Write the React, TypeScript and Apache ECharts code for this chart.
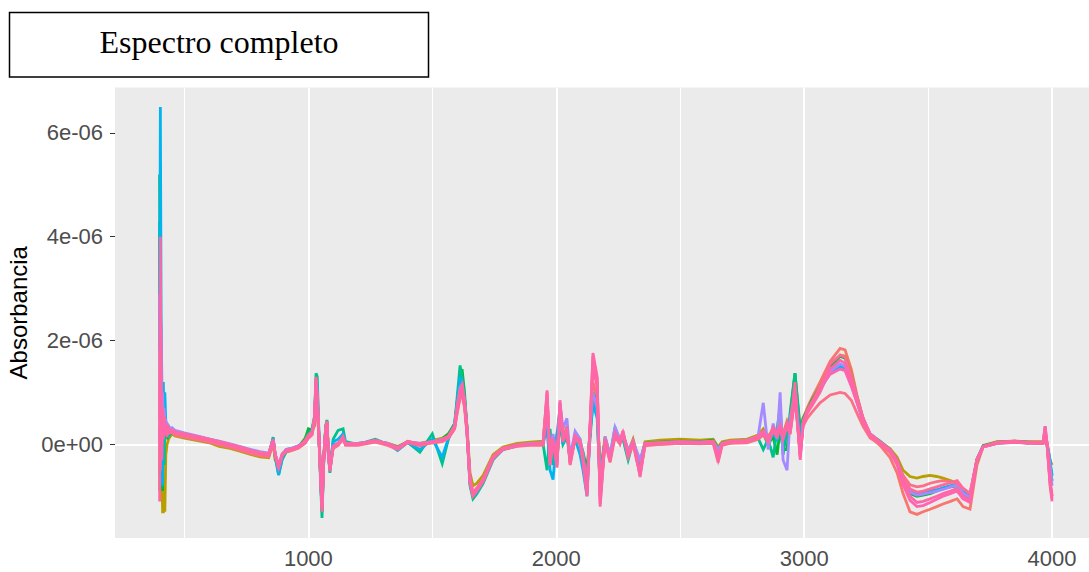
import { useEffect, useRef } from "react";
import * as echarts from "echarts";

// Wavenumber grid (cm-1) shared by every spectrum
const wavenumbers = [
  400, 403, 406, 409, 412, 415, 418, 421, 425, 430, 436, 442,
  450, 462, 500, 563, 600, 640, 684, 730, 770, 805, 840, 858, 866, 880, 894, 910, 930, 960, 987,
  1000, 1015, 1025, 1031, 1036, 1042, 1049, 1055, 1062, 1070, 1075, 1081, 1087, 1100, 1120, 1140, 1150,
  1200, 1270, 1320, 1360, 1400, 1450, 1500, 1540, 1565, 1590, 1600, 1612, 1620, 1630, 1640, 1652, 1664, 1680, 1705, 1745, 1785, 1842, 1894,
  1947, 1963, 1975, 1987, 2003, 2015, 2027, 2043, 2056, 2076,
  2096, 2108, 2124, 2136, 2148, 2165, 2177, 2197, 2217, 2237,
  2257, 2269, 2290, 2310, 2326, 2338, 2358, 2419, 2499, 2580,
  2633, 2653, 2669, 2701, 2770, 2814, 2835, 2855, 2875, 2891,
  2903, 2915, 2931, 2943, 2963, 2984, 2996,
  3012, 3032, 3064, 3105, 3145, 3165, 3190, 3213, 3237, 3266,
  3306, 3346, 3375, 3399, 3427, 3455, 3480, 3508, 3535, 3560,
  3590, 3617, 3641, 3669, 3697, 3722, 3778, 3850, 3900, 3964,
  3972, 3980, 3992, 4000,
];

// Absorbance of each sample, in units of 1e-06
const muestra1 = [
  -0.6, 1.5, 0.3, 0.1, 0.4, 0.2, 0.3, 0.1, 0.25, 0.2, 0.2, 0.22,
  0.24, 0.2, 0.16, 0.1, 0.06, 0.0, -0.05, -0.11, -0.17, -0.21, -0.23, 0.05, -0.22, -0.4, -0.22, -0.14, -0.12, -0.07, 0.02,
  0.12, 0.22, 0.45, 1.2, 0.8, 0.15, -0.5, -1.1, -0.25, 0.25, 0.4, -0.15, -0.45, -0.05, 0.0, 0.1, 0.0,
  0.0, 0.05, 0.02, -0.05, 0.04, 0.0, 0.03, 0.06, 0.12, 0.3, 0.6, 0.9, 1.0, 0.75, 0.2, -0.7, -0.98, -0.9, -0.7, -0.28, -0.1, -0.03, 0.0,
  0.0, 0.7, -0.2, 0.05, -0.2, 0.5, 0.05, 0.2, -0.2, 0.1,
  0.02, -0.2, -0.6, 0.2, 1.2, 0.9, -0.8, 0.05, -0.2, 0.15,
  0.02, 0.15, -0.1, 0.03, -0.2, -0.4, 0.0, 0.0, 0.02, 0.02,
  0.03, -0.15, 0.0, 0.03, 0.05, 0.12, 0.2, 0.1, 0.25, 0.15,
  0.3, 0.1, 0.35, 0.2, 0.9, -0.1, 0.5,
  0.7, 0.9, 1.2, 1.6, 1.85, 1.82, 1.45, 0.95, 0.5, 0.15,
  -0.02, -0.25, -0.55, -0.95, -1.3, -1.35, -1.3, -1.25, -1.2, -1.15,
  -1.1, -1.05, -1.2, -1.25, -0.4, -0.05, 0.02, 0.05, 0.03, 0.02,
  0.1, 0.0, -0.4, -0.6,
];

const muestra2 = [
  -0.9, 0.4, 0.2, -0.5, -1.3, -1.3, -0.85, -1.3, -0.2, 0.0, 0.1, 0.15,
  0.2, 0.16, 0.12, 0.06, 0.03, -0.04, -0.08, -0.14, -0.2, -0.24, -0.26, 0.02, -0.3, -0.4, -0.25, -0.15, -0.12, -0.06, 0.12,
  0.25, 0.3, 0.35, 1.1, 0.8, 0.2, -0.5, -1.1, -0.2, 0.3, 0.4, -0.2, -0.4, 0.0, 0.02, 0.1, 0.02,
  0.02, 0.05, 0.02, -0.04, 0.05, 0.02, 0.07, 0.12, 0.2, 0.35, 0.65, 0.95, 1.05, 0.85, 0.35, -0.55, -0.8, -0.75, -0.6, -0.2, -0.05, 0.02, 0.04,
  0.06, 0.9, -0.3, 0.15, -0.35, 0.5, 0.12, 0.35, -0.35, 0.2,
  0.1, -0.25, -0.7, 0.3, 0.9, 0.7, -0.6, 0.15, -0.25, 0.2,
  0.1, 0.2, -0.15, 0.1, -0.2, -0.35, 0.05, 0.08, 0.1, 0.08,
  0.1, -0.05, 0.05, 0.08, 0.1, 0.18, 0.3, 0.15, 0.3, 0.2,
  0.35, 0.2, 0.45, 0.3, 0.9, 0.2, 0.5,
  0.65, 0.85, 1.1, 1.5, 1.72, 1.7, 1.35, 0.9, 0.5, 0.18,
  0.05, -0.08, -0.25, -0.5, -0.62, -0.65, -0.62, -0.6, -0.62, -0.65,
  -0.7, -0.75, -0.9, -1.05, -0.35, -0.02, 0.05, 0.06, 0.05, 0.05,
  0.1, 0.02, -0.3, -0.4,
];

const muestra3 = [
  5.2, 0.8, -0.6, 0.3, -0.9, 0.9, 0.2, 0.1, 0.3, 0.1, 0.2, 0.2,
  0.25, 0.21, 0.17, 0.11, 0.07, 0.02, -0.03, -0.09, -0.15, -0.19, -0.21, 0.08, -0.22, -0.5, -0.25, -0.13, -0.1, -0.04, 0.1,
  0.3, 0.28, 0.5, 1.25, 0.9, 0.2, -0.6, -1.3, -0.3, 0.35, 0.45, -0.2, -0.5, -0.02, 0.0, 0.2, 0.0,
  0.0, 0.07, 0.0, -0.06, 0.05, 0.0, 0.04, 0.1, 0.2, 0.4, 0.8, 1.3, 1.45, 1.0, 0.3, -0.7, -1.0, -0.9, -0.7, -0.25, -0.08, -0.01, 0.01,
  0.03, 0.6, -0.2, 0.1, -0.3, 0.6, 0.1, 0.2, -0.2, 0.15,
  0.05, -0.15, -0.5, 0.2, 1.0, 0.8, -0.6, 0.1, -0.2, 0.15,
  0.05, 0.2, -0.15, 0.05, -0.2, -0.35, 0.02, 0.04, 0.06, 0.05,
  0.08, -0.1, 0.02, 0.05, 0.06, 0.14, 0.2, 0.0, 0.15, -0.2,
  0.3, -0.1, -0.1, 0.6, 1.37, 0.3, 0.5,
  0.65, 0.85, 1.1, 1.5, 1.7, 1.66, 1.3, 0.9, 0.5, 0.18,
  0.03, -0.12, -0.35, -0.7, -0.95, -1.0, -0.98, -0.95, -0.9, -0.85,
  -0.82, -0.8, -0.95, -1.05, -0.3, -0.03, 0.04, 0.06, 0.04, 0.03,
  0.1, 0.0, -0.5, -0.7,
];

const muestra4 = [
  4.3, 0.5, 0.9, -0.2, 0.4, 0.2, -0.4, 0.3, 0.2, 0.25, 0.15, 0.2,
  0.22, 0.19, 0.15, 0.09, 0.05, 0.0, -0.05, -0.1, -0.16, -0.2, -0.22, 0.14, -0.25, -0.59, -0.3, -0.15, -0.1, -0.05, 0.08,
  0.2, 0.3, 0.55, 1.37, 1.3, 0.3, -0.7, -1.42, -0.35, 0.35, 0.47, -0.2, -0.55, 0.1, 0.27, 0.3, 0.05,
  0.0, 0.1, 0.0, -0.1, 0.04, -0.15, 0.2, -0.37, 0.1, 0.4, 0.9, 1.52, 1.3, 0.9, 0.3, -0.8, -1.05, -0.95, -0.75, -0.3, -0.1, -0.03, 0.0,
  0.0, -0.5, 0.3, -0.4, 0.2, 0.4, 0.0, 0.15, -0.3, 0.1,
  0.0, -0.2, -0.7, 0.1, 0.8, 0.6, -0.9, 0.1, -0.25, 0.33,
  0.05, 0.1, -0.3, 0.05, -0.2, -0.4, 0.0, 0.02, 0.03, 0.03,
  0.04, -0.1, 0.0, 0.03, 0.05, 0.12, -0.1, 0.1, -0.25, 0.3,
  0.72, -0.2, 0.3, 0.5, 1.37, 0.2, 0.45,
  0.62, 0.8, 1.05, 1.4, 1.5, 1.48, 1.2, 0.85, 0.48, 0.2,
  0.06, -0.1, -0.3, -0.62, -0.88, -0.95, -0.92, -0.9, -0.88, -0.85,
  -0.8, -0.78, -0.92, -1.0, -0.28, -0.03, 0.03, 0.05, 0.04, 0.03,
  0.08, 0.0, -0.5, -0.7,
];

const muestra5 = [
  1.8, 6.5, 2.5, 1.2, -0.8, 1.2, 0.3, 1.0, 0.4, 0.3, 0.35, 0.3,
  0.3, 0.25, 0.2, 0.14, 0.1, 0.05, 0.0, -0.06, -0.12, -0.16, -0.18, 0.12, -0.18, -0.59, -0.28, -0.1, -0.08, -0.03, 0.06,
  0.18, 0.25, 0.45, 1.2, 1.1, 0.25, -0.6, -1.2, -0.3, 0.3, 0.4, -0.25, -0.45, 0.05, 0.1, 0.2, 0.02,
  0.02, 0.06, 0.02, -0.12, 0.03, -0.1, 0.1, -0.25, 0.12, 0.35, 0.8, 1.3, 1.2, 0.85, 0.25, -0.75, -1.0, -0.92, -0.72, -0.28, -0.1, -0.02, 0.01,
  0.02, 0.3, -0.5, -0.68, 0.2, 0.7, 0.0, 0.3, -0.3, 0.1,
  -0.2, -0.5, -1.0, 0.2, 0.8, 0.5, -0.7, 0.05, -0.2, 0.25,
  0.1, 0.15, -0.25, 0.05, -0.3, -0.5, 0.0, 0.01, 0.03, 0.02,
  0.03, -0.12, 0.01, 0.03, 0.05, 0.1, 0.2, 0.05, 0.2, 0.1,
  0.3, 0.05, 0.35, 0.3, 1.1, 0.1, 0.45,
  0.62, 0.8, 1.05, 1.38, 1.5, 1.45, 1.15, 0.82, 0.45, 0.18,
  0.04, -0.12, -0.35, -0.68, -0.9, -0.95, -0.93, -0.9, -0.88, -0.84,
  -0.8, -0.76, -0.9, -1.0, -0.3, -0.04, 0.03, 0.05, 0.03, 0.03,
  0.1, 0.0, -0.3, -0.6,
];

const muestra6 = [
  2.9, 0.5, 2.3, 0.6, 1.0, 0.4, 0.7, 0.5, 0.45, 0.4, 0.35, 0.3,
  0.32, 0.27, 0.22, 0.15, 0.1, 0.06, 0.01, -0.05, -0.1, -0.14, -0.17, 0.08, -0.18, -0.4, -0.2, -0.1, -0.08, -0.03, 0.06,
  0.16, 0.22, 0.5, 1.1, 0.85, 0.2, -0.5, -1.1, -0.25, 0.28, 0.4, -0.15, -0.45, -0.03, 0.02, 0.12, 0.02,
  0.02, 0.06, 0.02, -0.06, 0.05, 0.02, 0.05, 0.1, 0.15, 0.35, 0.75, 1.1, 1.15, 0.85, 0.25, -0.7, -0.98, -0.88, -0.7, -0.25, -0.08, -0.01, 0.02,
  0.03, 0.6, -0.2, 0.2, -0.3, 0.8, 0.3, 0.5, -0.25, 0.25,
  0.1, -0.2, -0.8, 0.3, 1.0, 0.7, -0.8, 0.15, -0.2, 0.33,
  0.1, 0.2, -0.1, 0.05, -0.15, -0.3, 0.02, 0.03, 0.05, 0.04,
  0.06, -0.1, 0.02, 0.05, 0.08, 0.15, 0.8, -0.1, 0.4, 0.1,
  1.0, -0.3, -0.5, 0.5, 1.0, -0.2, 0.4,
  0.62, 0.8, 1.05, 1.4, 1.55, 1.5, 1.2, 0.84, 0.47, 0.18,
  0.04, -0.12, -0.35, -0.7, -0.92, -0.98, -0.96, -0.93, -0.9, -0.87,
  -0.82, -0.78, -0.94, -1.02, -0.3, -0.05, 0.02, 0.04, 0.03, 0.03,
  0.35, 0.0, -0.4, -0.8,
];

const muestra7 = [
  0.3, -0.5, 0.6, 0.2, 0.3, 0.2, 0.35, 0.25, 0.3, 0.2, 0.25, 0.22,
  0.22, 0.18, 0.14, 0.08, 0.04, -0.01, -0.06, -0.12, -0.18, -0.22, -0.24, 0.05, -0.24, -0.42, -0.22, -0.14, -0.12, -0.07, 0.03,
  0.12, 0.18, 0.45, 1.1, 0.8, 0.15, -0.55, -1.15, -0.28, 0.25, 0.4, -0.22, -0.45, -0.08, -0.02, 0.1, -0.02,
  -0.02, 0.04, -0.02, -0.1, 0.03, -0.03, 0.03, 0.05, 0.12, 0.3, 0.6, 0.9, 0.95, 0.7, 0.2, -0.75, -1.0, -0.9, -0.72, -0.28, -0.1, -0.04, -0.02,
  -0.02, 0.8, -0.4, 0.05, -0.35, 0.7, 0.05, 0.25, -0.4, 0.1,
  0.0, -0.35, -0.9, 0.25, 1.5, 1.1, -1.0, 0.05, -0.35, 0.15,
  0.0, 0.2, -0.25, 0.0, -0.35, -0.55, -0.03, 0.0, 0.02, 0.01,
  0.02, -0.35, -0.02, 0.02, 0.03, 0.1, 0.18, 0.05, 0.25, 0.15,
  0.3, 0.1, 0.35, 0.2, 0.9, -0.2, 0.35,
  0.5, 0.62, 0.8, 0.95, 1.0, 0.98, 0.85, 0.6, 0.35, 0.12,
  0.0, -0.15, -0.35, -0.6, -0.78, -0.82, -0.8, -0.75, -0.72, -0.7,
  -0.72, -0.75, -0.85, -0.95, -0.3, -0.05, 0.02, 0.04, 0.02, 0.02,
  0.2, -0.02, -0.7, -1.0,
];

const muestra8 = [
  0.1, 2.0, 0.5, 0.0, 0.4, 0.15, 0.4, 0.25, 0.3, 0.2, 0.28, 0.24,
  0.27, 0.23, 0.19, 0.13, 0.09, 0.04, -0.01, -0.07, -0.13, -0.17, -0.19, 0.06, -0.19, -0.42, -0.18, -0.11, -0.09, -0.04, 0.06,
  0.16, 0.22, 0.48, 1.2, 0.85, 0.18, -0.55, -1.2, -0.28, 0.28, 0.42, -0.18, -0.48, -0.04, 0.01, 0.12, 0.01,
  0.01, 0.07, 0.01, -0.07, 0.05, 0.01, 0.05, 0.07, 0.14, 0.33, 0.68, 0.98, 1.05, 0.78, 0.25, -0.7, -0.97, -0.87, -0.7, -0.26, -0.09, -0.02, 0.0,
  0.02, 0.9, -0.3, 0.12, -0.35, 0.75, 0.12, 0.28, -0.3, 0.14,
  0.04, -0.25, -0.85, 0.28, 1.55, 1.15, -1.05, 0.08, -0.28, 0.18,
  0.04, 0.22, -0.18, 0.04, -0.28, -0.55, 0.0, 0.02, 0.04, 0.03,
  0.05, -0.22, 0.0, 0.05, 0.06, 0.14, 0.22, 0.08, 0.28, 0.18,
  0.32, 0.12, 0.38, 0.22, 1.0, -0.2, 0.42,
  0.62, 0.8, 1.08, 1.35, 1.45, 1.42, 1.12, 0.8, 0.46, 0.18,
  0.03, -0.14, -0.4, -0.78, -1.08, -1.2, -1.18, -1.12, -1.06, -1.0,
  -0.95, -0.9, -1.05, -1.12, -0.32, -0.05, 0.03, 0.05, 0.03, 0.03,
  0.25, 0.0, -0.7, -1.0,
];

const muestra9 = [
  0.5, 3.0, 1.2, 0.3, 0.7, 0.3, 0.55, 0.3, 0.4, 0.25, 0.32, 0.27,
  0.28, 0.24, 0.2, 0.14, 0.1, 0.05, 0.0, -0.06, -0.12, -0.16, -0.18, 0.09, -0.18, -0.48, -0.22, -0.13, -0.1, -0.05, 0.07,
  0.18, 0.24, 0.52, 1.25, 0.95, 0.25, -0.58, -1.3, -0.32, 0.32, 0.43, -0.22, -0.52, -0.06, 0.02, 0.14, 0.01,
  0.01, 0.06, 0.01, -0.09, 0.05, 0.0, 0.04, 0.09, 0.16, 0.36, 0.72, 1.05, 1.15, 0.82, 0.3, -0.66, -0.93, -0.84, -0.66, -0.23, -0.07, -0.01, 0.01,
  0.03, 1.0, -0.4, 0.08, -0.45, 0.8, 0.08, 0.32, -0.38, 0.16,
  0.06, -0.32, -0.95, 0.32, 1.7, 1.25, -1.15, 0.1, -0.32, 0.22,
  0.06, 0.26, -0.22, 0.06, -0.32, -0.6, 0.01, 0.03, 0.05, 0.04,
  0.06, -0.28, 0.01, 0.06, 0.07, 0.16, 0.24, 0.12, 0.32, 0.22,
  0.36, 0.18, 0.42, 0.28, 1.2, -0.25, 0.45,
  0.65, 0.82, 1.1, 1.55, 1.72, 1.68, 1.32, 0.92, 0.52, 0.2,
  0.05, -0.1, -0.3, -0.62, -0.86, -0.92, -0.9, -0.86, -0.82, -0.78,
  -0.74, -0.7, -0.85, -0.95, -0.28, -0.04, 0.04, 0.06, 0.04, 0.04,
  0.3, 0.01, -0.75, -1.05,
];

const muestra10 = [
  -1.1, 4.0, 0.8, -0.3, 0.6, 0.1, 0.5, 0.2, 0.35, 0.15, 0.3, 0.25,
  0.26, 0.22, 0.18, 0.12, 0.08, 0.03, -0.02, -0.08, -0.14, -0.18, -0.2, 0.1, -0.2, -0.45, -0.2, -0.12, -0.1, -0.05, 0.05,
  0.15, 0.2, 0.5, 1.3, 0.9, 0.2, -0.6, -1.26, -0.3, 0.3, 0.45, -0.2, -0.5, -0.05, 0.0, 0.15, 0.0,
  0.0, 0.08, 0.0, -0.08, 0.06, 0.0, 0.05, 0.08, 0.15, 0.35, 0.7, 1.0, 1.1, 0.8, 0.28, -0.68, -0.95, -0.85, -0.68, -0.24, -0.08, -0.02, 0.0,
  0.02, 1.04, -0.35, 0.1, -0.4, 0.85, 0.1, 0.3, -0.35, 0.15,
  0.05, -0.3, -1.0, 0.3, 1.76, 1.3, -1.2, 0.1, -0.3, 0.2,
  0.05, 0.25, -0.2, 0.05, -0.3, -0.63, 0.0, 0.02, 0.04, 0.03,
  0.05, -0.3, 0.0, 0.05, 0.06, 0.15, 0.25, 0.1, 0.3, 0.2,
  0.35, 0.15, 0.4, 0.25, 1.1, -0.3, 0.4,
  0.6, 0.75, 1.0, 1.45, 1.62, 1.56, 1.2, 0.85, 0.5, 0.2,
  0.04, -0.12, -0.35, -0.7, -1.0, -1.12, -1.1, -1.05, -1.0, -0.95,
  -0.9, -0.85, -1.0, -1.08, -0.3, -0.05, 0.03, 0.05, 0.03, 0.03,
  0.35, 0.0, -0.8, -1.1,
];

const sampleNames = ["M1", "M2", "M3", "M4", "M5", "M6", "M7", "M8", "M9", "M10"];
const sampleColors = [
  "#F8766D", "#B79F00", "#00BA38", "#00C08B", "#00B4F0",
  "#A58AFF", "#FD6F86", "#FF64B0", "#FF6A98", "#FF66A8",
];
const sampleValues = [
  muestra1, muestra2, muestra3, muestra4, muestra5,
  muestra6, muestra7, muestra8, muestra9, muestra10,
];

const xTickValues = [1000, 2000, 3000, 4000];
const xMinorValues = [500, 1500, 2500, 3500];
const yTickValues = [0, 2e-6, 4e-6, 6e-6];
const yMinorValues = [-1e-6, 1e-6, 3e-6, 5e-6];

const UNIT = 1e-6;

function sciLabel(v: number): string {
  if (v === 0) return "0e+00";
  const [mant, exp] = v.toExponential().split("e");
  const sign = exp.startsWith("-") ? "-" : "+";
  const digits = exp.replace(/[+-]/, "").padStart(2, "0");
  return `${mant}e${sign}${digits}`;
}

const SANS = '"Liberation Sans", Arial, sans-serif';

export default function App() {
  const ref = useRef<HTMLDivElement>(null);

  useEffect(() => {
    if (!ref.current) return;
    const chart = echarts.init(ref.current, null, { renderer: "svg" });

    const gridLine = (axis: "xAxis" | "yAxis", v: number, width: number) => ({
      [axis]: v,
      lineStyle: { color: "#FFFFFF", width, type: "solid" },
    });

    const spectra = sampleValues.map((vals, i) => ({
      type: "line",
      name: sampleNames[i],
      data: wavenumbers.map((w, k) => [w, vals[k] * UNIT]),
      showSymbol: false,
      symbol: "none",
      silent: true,
      z: 3,
      lineStyle: { color: sampleColors[i], width: 2.8, join: "miter" },
      itemStyle: { color: sampleColors[i] },
    }));

    chart.setOption({
      animation: false,
      backgroundColor: "#FFFFFF",
      grid: {
        show: true,
        left: 115,
        right: 0,
        top: 87.5,
        bottom: 34,
        backgroundColor: "#EBEBEB",
        borderWidth: 0,
        outerBoundsMode: "none",
        containLabel: false,
      },
      xAxis: {
        type: "value",
        min: 220,
        max: 4149,
        axisLine: { show: false },
        splitLine: { show: false },
        axisTick: {
          show: true,
          customValues: xTickValues,
          length: 5,
          lineStyle: { color: "#333333", width: 1 },
        },
        axisLabel: {
          customValues: xTickValues,
          margin: 9,
          color: "#4D4D4D",
          fontSize: 22,
          fontFamily: SANS,
          formatter: (v: number) => String(v),
        },
      },
      yAxis: {
        type: "value",
        min: -1.805e-6,
        max: 6.875e-6,
        name: "Absorbancia",
        nameLocation: "middle",
        nameGap: 80,
        nameTextStyle: { color: "#000000", fontSize: 24, fontFamily: SANS },
        axisLine: { show: false },
        splitLine: { show: false },
        axisTick: {
          show: true,
          customValues: yTickValues,
          length: 5,
          lineStyle: { color: "#333333", width: 1 },
        },
        axisLabel: {
          customValues: yTickValues,
          margin: 12,
          color: "#4D4D4D",
          fontSize: 22,
          fontFamily: SANS,
          formatter: (v: number) => sciLabel(v),
        },
      },
      graphic: [
        {
          type: "rect",
          shape: { x: 9.5, y: 12.5, width: 419, height: 64.5 },
          style: { fill: "#FFFFFF", stroke: "#000000", lineWidth: 1.5 },
        },
        {
          type: "text",
          x: 219,
          y: 42,
          style: {
            text: "Espectro completo",
            font: '32px "Liberation Serif", "Times New Roman", serif',
            fill: "#000000",
            align: "center",
            verticalAlign: "middle",
          },
        },
      ],
      series: [
        {
          type: "line",
          name: "grid",
          data: [],
          silent: true,
          z: 1,
          markLine: {
            silent: true,
            symbol: ["none", "none"],
            label: { show: false },
            z: 1,
            data: [
              ...xMinorValues.map((v) => gridLine("xAxis", v, 1)),
              ...yMinorValues.map((v) => gridLine("yAxis", v, 1)),
              ...xTickValues.map((v) => gridLine("xAxis", v, 2)),
              ...yTickValues.map((v) => gridLine("yAxis", v, 2)),
            ],
          },
        },
        ...spectra,
      ],
    });

    return () => chart.dispose();
  }, []);

  return (
    <div
      ref={ref}
      style={{ position: "fixed", left: 0, top: 0, width: 1089, height: 572 }}
    />
  );
}
